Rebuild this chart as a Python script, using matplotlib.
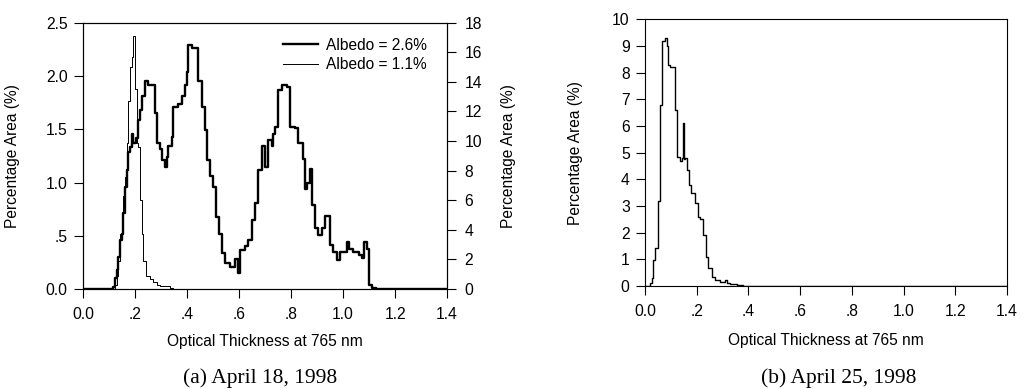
import matplotlib
matplotlib.use("Agg")
import matplotlib.pyplot as plt
from matplotlib.ticker import FixedLocator, FixedFormatter

plt.rcParams['font.family'] = ['Liberation Sans', 'DejaVu Sans']

# ---- Panel (a): April 18, 1998 ----
# Albedo = 2.6% (left axis, % area), step histogram: bin left edges and values
a_thick_x = [0.0, 0.104, 0.117, 0.123, 0.129, 0.136, 0.142, 0.149, 0.155, 0.162, 0.168,
             0.174, 0.181, 0.187, 0.194, 0.204, 0.213, 0.219, 0.226, 0.238, 0.251,
             0.271, 0.277, 0.283, 0.296, 0.303, 0.315, 0.322, 0.328, 0.341, 0.347,
             0.367, 0.379, 0.392, 0.399, 0.405, 0.418, 0.437, 0.444, 0.456, 0.469,
             0.476, 0.488, 0.501, 0.512, 0.521, 0.533, 0.546, 0.565, 0.585, 0.597,
             0.604, 0.623, 0.636, 0.649, 0.662, 0.674, 0.687, 0.700, 0.713, 0.726,
             0.732, 0.738, 0.751, 0.764, 0.783, 0.796, 0.815, 0.828, 0.847, 0.854,
             0.860, 0.873, 0.879, 0.892, 0.905, 0.918, 0.931, 0.950, 0.963, 0.976,
             0.988, 1.014, 1.021, 1.040, 1.060, 1.073, 1.079, 1.092, 1.101, 1.112,
             1.125, 1.4]
a_thick_y = [0.0, 0.0, 0.02, 0.10, 0.18, 0.30, 0.46, 0.52, 0.71, 0.96, 1.12,
             1.29, 1.33, 1.46, 1.37, 1.42, 1.59, 1.68, 1.81, 1.95, 1.92,
             1.92, 1.65, 1.37, 1.31, 1.21, 1.15, 1.24, 1.34, 1.43, 1.71,
             1.74, 1.81, 1.92, 2.04, 2.29, 2.26, 2.26, 1.95, 1.71, 1.49,
             1.21, 1.06, 0.96, 0.68, 0.52, 0.34, 0.24, 0.21, 0.28, 0.15,
             0.37, 0.40, 0.46, 0.65, 0.81, 1.12, 1.34, 1.15, 1.40, 1.34,
             1.46, 1.52, 1.87, 1.92, 1.90, 1.52, 1.51, 1.37, 1.22, 0.94,
             1.00, 1.13, 0.79, 0.57, 0.51, 0.57, 0.69, 0.41, 0.35, 0.27,
             0.35, 0.44, 0.38, 0.35, 0.32, 0.29, 0.44, 0.38, 0.04, 0.01,
             0.0, 0.0]

# Albedo = 1.1% (right axis, % area)
a_thin_x = [0.0, 0.123, 0.129, 0.136, 0.142, 0.149, 0.155, 0.162, 0.168, 0.174,
            0.181, 0.187, 0.191, 0.196, 0.200, 0.206, 0.213, 0.219, 0.226, 0.232,
            0.242, 0.258, 0.270, 0.283, 0.296, 0.335, 0.345, 1.4]
a_thin_y = [0.0, 0.3, 0.9, 1.9, 3.7, 5.1, 6.3, 7.6, 9.9, 12.7,
            15.0, 15.7, 17.1, 17.1, 13.5, 9.9, 9.6, 6.0, 3.7, 1.9,
            0.9, 0.7, 0.5, 0.3, 0.2, 0.05, 0.0, 0.0]

# ---- Panel (b): April 25, 1998 ----
b_x = [0.0, 0.020, 0.026, 0.032, 0.039, 0.052, 0.058, 0.067, 0.077, 0.084, 0.090,
       0.097, 0.116, 0.122, 0.135, 0.142, 0.148, 0.151, 0.155, 0.161, 0.171,
       0.178, 0.193, 0.206, 0.213, 0.226, 0.236, 0.245, 0.258, 0.271, 0.290,
       0.309, 0.316, 0.329, 0.355, 0.380, 1.4]
b_y = [0.0, 0.1, 0.29, 0.98, 1.41, 3.2, 6.8, 9.2, 9.3, 8.98, 8.3,
       8.2, 6.6, 4.85, 4.7, 4.8, 6.1, 4.75, 4.8, 4.35, 3.8,
       3.5, 3.1, 2.6, 2.5, 1.9, 1.1, 0.66, 0.35, 0.22, 0.16,
       0.22, 0.10, 0.06, 0.03, 0.0, 0.0]

x_ticks = [0.0, 0.2, 0.4, 0.6, 0.8, 1.0, 1.2, 1.4]
x_labels = ["0.0", ".2", ".4", ".6", ".8", "1.0", "1.2", "1.4"]
a_left_ticks = [0.0, 0.5, 1.0, 1.5, 2.0, 2.5]
a_left_labels = ["0.0", ".5", "1.0", "1.5", "2.0", "2.5"]
a_right_ticks = [0, 2, 4, 6, 8, 10, 12, 14, 16, 18]
b_ticks = list(range(0, 11))

fig = plt.figure(figsize=(10.24, 3.89), dpi=100)
fs = 11.3
lfs = 11.2

def style(ax):
    ax.tick_params(direction='out', length=6.5, width=0.8, labelsize=fs)
    ax.tick_params(axis='x', pad=6.5)
    ax.tick_params(axis='y', pad=4.5)
    for s in ax.spines.values():
        s.set_linewidth(0.8)

# Panel (a)
ax1 = fig.add_axes([0.0811, 0.257, 0.3555, 0.6846])
l1, = ax1.step(a_thick_x, a_thick_y, where='post', color='black', lw=1.7,
               label='Albedo = 2.6%')
ax1.set_xlim(0, 1.4)
ax1.set_ylim(0, 2.5)
ax1.xaxis.set_major_locator(FixedLocator(x_ticks))
ax1.xaxis.set_major_formatter(FixedFormatter(x_labels))
ax1.yaxis.set_major_locator(FixedLocator(a_left_ticks))
ax1.yaxis.set_major_formatter(FixedFormatter(a_left_labels))
ax1.set_xlabel('Optical Thickness at 765 nm', fontsize=lfs)
ax1.set_ylabel('Percentage Area (%)', fontsize=lfs)
style(ax1)
ax1.xaxis.set_label_coords(0.5, -0.169)
ax1.yaxis.set_label_coords(-0.173, 0.5)

ax2 = ax1.twinx()
l2, = ax2.step(a_thin_x, a_thin_y, where='post', color='black', lw=0.7,
               label='Albedo = 1.1%')
ax2.set_ylim(0, 18)
ax2.yaxis.set_major_locator(FixedLocator(a_right_ticks))
ax2.set_ylabel('Percentage Area (%)', fontsize=lfs)
style(ax2)
ax2.tick_params(axis='y', pad=6)
ax2.yaxis.set_label_coords(1.148, 0.5)
ax2.legend(handles=[l1, l2], loc='upper right', frameon=False, fontsize=lfs,
           handlelength=2.3, handletextpad=0.5, labelspacing=0.3,
           borderaxespad=0.3, bbox_to_anchor=(0.975, 0.985))

# Panel (b)
ax3 = fig.add_axes([0.6299, 0.2648, 0.3535, 0.6856])
ax3.step(b_x, b_y, where='post', color='black', lw=1.0)
ax3.set_xlim(0, 1.4)
ax3.set_ylim(0, 10)
ax3.xaxis.set_major_locator(FixedLocator(x_ticks))
ax3.xaxis.set_major_formatter(FixedFormatter(x_labels))
ax3.yaxis.set_major_locator(FixedLocator(b_ticks))
ax3.set_xlabel('Optical Thickness at 765 nm', fontsize=lfs)
ax3.set_ylabel('Percentage Area (%)', fontsize=lfs)
style(ax3)
ax3.xaxis.set_label_coords(0.5, -0.176)
ax3.yaxis.set_label_coords(-0.171, 0.5)

fig.text(0.254, 0.028, '(a) April 18, 1998', ha='center', va='center',
         fontsize=15.5, family=['Liberation Serif', 'DejaVu Serif'])
fig.text(0.819, 0.028, '(b) April 25, 1998', ha='center', va='center',
         fontsize=15.5, family=['Liberation Serif', 'DejaVu Serif'])

fig.savefig('out.png', dpi=100)
